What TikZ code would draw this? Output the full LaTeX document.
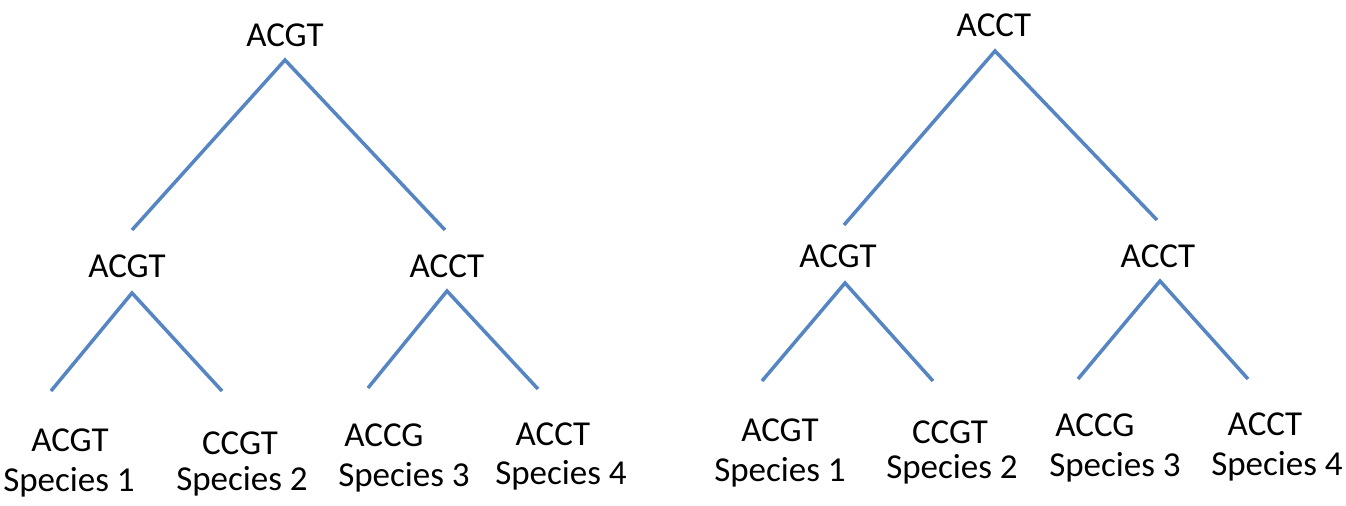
\documentclass[tikz,border=0pt]{standalone}
\usepackage{fontspec}
\setmainfont{Carlito}
\definecolor{branch}{HTML}{5585C2}
\tikzset{
  lbl/.style={font=\fontsize{17.5pt}{20pt}\selectfont, inner sep=0pt, anchor=base, text=black},
  edge/.style={draw=branch, line width=1.75pt, line join=miter}
}
\begin{document}
\begin{tikzpicture}[x=0.5pt,y=-0.5pt]
\useasboundingbox (0,0) rectangle (1346,506);
% ---------- left tree ----------
\node[lbl] (lroot) at (285,47) {ACGT};
\node[lbl] (lmidA) at (127,278) {ACGT};
\node[lbl] (lmidB) at (447,278) {ACCT};
\node[lbl] (l1a) at (70,452) {ACGT};
\node[lbl] (l1b) at (69,492) {Species 1};
\node[lbl] (l2a) at (240,455) {CCGT};
\node[lbl] (l2b) at (242,491) {Species 2};
\node[lbl] (l3a) at (384,447) {ACCG};
\node[lbl] (l3b) at (404,487) {Species 3};
\node[lbl] (l4a) at (553,446) {ACCT};
\node[lbl] (l4b) at (561,485) {Species 4};
\coordinate (la0) at (285,60);
\coordinate (la1) at (132,230);
\coordinate (la2) at (445,230);
\coordinate (lb0) at (132,293);
\coordinate (lb1) at (51,391);
\coordinate (lb2) at (222,391);
\coordinate (lc0) at (447,291);
\coordinate (lc1) at (368,388);
\coordinate (lc2) at (538,389);
\draw[edge] (la1) -- (la0) -- (la2);
\draw[edge] (lb1) -- (lb0) -- (lb2);
\draw[edge] (lc1) -- (lc0) -- (lc2);
% ---------- right tree ----------
\node[lbl] (rroot) at (994,37) {ACCT};
\node[lbl] (rmidA) at (838,268) {ACGT};
\node[lbl] (rmidB) at (1158,268) {ACCT};
\node[lbl] (r1a) at (780,442) {ACGT};
\node[lbl] (r1b) at (780,482) {Species 1};
\node[lbl] (r2a) at (950,444) {CCGT};
\node[lbl] (r2b) at (952,479) {Species 2};
\node[lbl] (r3a) at (1095,437) {ACCG};
\node[lbl] (r3b) at (1115,477) {Species 3};
\node[lbl] (r4a) at (1265,436) {ACCT};
\node[lbl] (r4b) at (1277,476) {Species 4};
\coordinate (ra0) at (995,51);
\coordinate (ra1) at (844,225);
\coordinate (ra2) at (1157,220);
\coordinate (rb0) at (845,283);
\coordinate (rb1) at (762,381);
\coordinate (rb2) at (933,381);
\coordinate (rc0) at (1160,281);
\coordinate (rc1) at (1078,379);
\coordinate (rc2) at (1248,379);
\draw[edge] (ra1) -- (ra0) -- (ra2);
\draw[edge] (rb1) -- (rb0) -- (rb2);
\draw[edge] (rc1) -- (rc0) -- (rc2);
\end{tikzpicture}
\end{document}
